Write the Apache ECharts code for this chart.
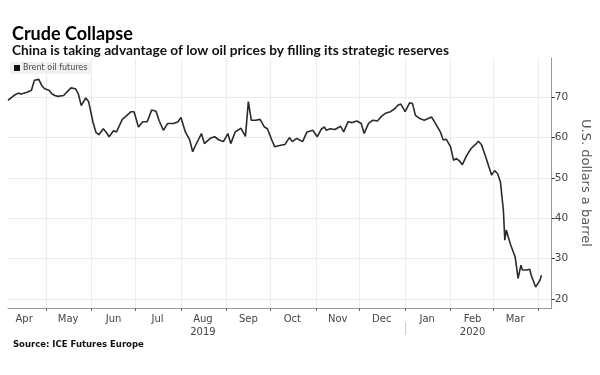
<!DOCTYPE html>
<html>
<head>
<meta charset="utf-8">
<script src="https://cdn.jsdelivr.net/npm/echarts@6/dist/echarts.min.js"></script>
<style>
  html, body { margin: 0; padding: 0; background: #fff; }
  #chart { width: 600px; height: 375px; }
</style>
</head>
<body>
<div id="chart"></div>
<script>
// Brent oil futures
var dates = [
  '2019-04-05','2019-04-09','2019-04-12','2019-04-14','2019-04-18','2019-04-21','2019-04-23','2019-04-26','2019-04-28','2019-04-30',
  '2019-05-03','2019-05-05','2019-05-07','2019-05-09','2019-05-13','2019-05-15','2019-05-18','2019-05-21','2019-05-23','2019-05-25','2019-05-28','2019-05-30',
  '2019-06-02','2019-06-04','2019-06-06','2019-06-09','2019-06-11','2019-06-13','2019-06-16','2019-06-18','2019-06-22','2019-06-24','2019-06-28','2019-06-30',
  '2019-07-03','2019-07-06','2019-07-09','2019-07-12','2019-07-15','2019-07-17','2019-07-20','2019-07-23','2019-07-27','2019-07-30',
  '2019-08-01','2019-08-04','2019-08-07','2019-08-09','2019-08-11','2019-08-15','2019-08-17','2019-08-21','2019-08-24','2019-08-27','2019-08-30',
  '2019-09-02','2019-09-04','2019-09-07','2019-09-11','2019-09-14','2019-09-15','2019-09-16','2019-09-18','2019-09-21','2019-09-24','2019-09-27','2019-09-29',
  '2019-10-02','2019-10-04','2019-10-08','2019-10-11','2019-10-14','2019-10-16','2019-10-19','2019-10-21','2019-10-23','2019-10-26','2019-10-30',
  '2019-11-02','2019-11-05','2019-11-07','2019-11-08','2019-11-11','2019-11-14','2019-11-18','2019-11-20','2019-11-23','2019-11-26','2019-11-29',
  '2019-12-02','2019-12-04','2019-12-07','2019-12-10','2019-12-13','2019-12-16','2019-12-19','2019-12-22','2019-12-25','2019-12-27','2019-12-29',
  '2020-01-01','2020-01-04','2020-01-06','2020-01-08','2020-01-11','2020-01-14','2020-01-19','2020-01-21','2020-01-25','2020-01-27','2020-01-29',
  '2020-02-01','2020-02-03','2020-02-05','2020-02-07','2020-02-09','2020-02-12','2020-02-15','2020-02-18','2020-02-20','2020-02-22','2020-02-25','2020-02-27','2020-02-29',
  '2020-03-02','2020-03-04','2020-03-06','2020-03-08','2020-03-09','2020-03-10','2020-03-11','2020-03-13','2020-03-14','2020-03-16','2020-03-17','2020-03-18',
  '2020-03-20','2020-03-21','2020-03-24','2020-03-26','2020-03-27','2020-03-30','2020-03-31','2020-04-02','2020-04-03'
];
var prices = [
  69.2,70.4,71.0,70.8,71.2,71.7,74.2,74.4,72.9,72.1,
  71.7,70.8,70.4,70.2,70.4,71.2,72.3,72.1,70.8,67.9,69.8,68.9,
  63.8,61.3,60.7,62.2,61.3,60.2,61.7,61.4,64.5,65.1,66.4,66.4,
  62.6,63.9,63.9,66.8,66.5,64.3,61.8,63.5,63.5,63.9,
  65.0,61.4,59.4,56.5,58.1,61.0,58.5,59.8,60.2,59.4,59.0,
  61.0,58.5,61.4,62.3,60.3,60.2,68.9,64.3,64.3,64.5,62.6,62.2,
  59.4,57.7,58.1,58.3,60.0,59.0,59.8,59.4,59.0,61.4,61.8,
  60.2,62.2,62.6,61.8,62.2,62.0,62.8,61.4,63.9,63.7,64.1,
  63.5,61.0,63.5,64.3,64.1,65.3,66.1,66.4,67.2,68.0,68.3,
  66.4,68.6,68.4,65.5,64.7,64.3,65.1,63.9,61.4,59.4,59.6,
  57.7,54.4,54.8,54.2,53.3,55.6,57.3,58.3,59.1,58.3,55.2,52.9,50.7,
  51.8,51.1,49.0,42.0,34.6,37.1,35.8,33.4,33.8,30.5,28.0,25.1,
  28.4,27.2,27.2,27.4,25.9,23.0,22.9,24.7,25.9
];
var monthStarts = ['2019-05-01','2019-06-01','2019-07-01','2019-08-01','2019-09-01','2019-10-01',
  '2019-11-01','2019-12-01','2020-01-01','2020-02-01','2020-03-01','2020-04-01'];
var labelDates = ['2019-04-16','2019-05-16','2019-06-16','2019-07-16','2019-08-16','2019-09-16',
  '2019-10-16','2019-11-16','2019-12-16','2020-01-16','2020-02-16','2020-03-16'];
var labelNames = ['Apr','May','Jun','Jul','Aug\n2019','Sep','Oct','Nov','Dec','Jan','Feb\n2020','Mar'];
var yTicks = [20, 30, 40, 50, 60, 70];

function ts(d) { return +new Date(d + 'T00:00:00Z'); }

var dom = document.getElementById('chart');
var myChart = echarts.init(dom, null, { renderer: 'canvas' });

var labelTs = labelDates.map(ts);
var lineData = dates.map(function (d, i) { return [ts(d), prices[i]]; });
var xMin = ts('2019-04-05');
var xMax = ts('2020-04-10');

var option = {
  animation: false,
  title: [
    {
      text: 'Crude Collapse',
      left: 7, top: 20,
      textStyle: { fontFamily: 'Lato', fontWeight: 'bold', fontSize: 18, color: '#000' }
    },
    {
      text: 'China is taking advantage of low oil prices by filling its strategic reserves',
      left: 7, top: 39,
      textStyle: { fontFamily: 'Lato', fontWeight: 'bold', fontSize: 13.7, color: '#111' }
    },
    {
      text: 'Source: ICE Futures Europe',
      left: 8, top: 335,
      textStyle: { fontFamily: 'DejaVu Sans', fontWeight: 'bold', fontSize: 8.5, color: '#111' }
    }
  ],
  legend: {
    left: 10, top: 62,
    icon: 'rect',
    itemWidth: 6, itemHeight: 6, itemGap: 3,
    padding: [2, 4, 2, 4],
    backgroundColor: '#f1f1f1',
    textStyle: { fontFamily: 'DejaVu Sans', fontSize: 8, color: '#444', padding: [0, 0, 0, -2] },
    data: [{ name: 'Brent oil futures', itemStyle: { color: '#111' } }]
  },
  grid: { left: 8, right: 47, top: 58, bottom: 67 },
  xAxis: [
    {
      type: 'value',
      min: xMin,
      max: xMax,
      axisLine: { show: true, onZero: false, lineStyle: { color: '#999', width: 1 } },
      axisTick: { show: true, customValues: monthStarts.map(ts), length: 3, lineStyle: { color: '#666' } },
      splitLine: { show: true, lineStyle: { color: '#ececec', width: 1 } },
      axisLabel: {
        customValues: labelTs,
        color: '#444',
        fontFamily: 'DejaVu Sans',
        fontSize: 10,
        lineHeight: 13,
        margin: 5,
        formatter: function (v) {
          var i = labelTs.indexOf(v);
          return i >= 0 ? labelNames[i] : '';
        }
      }
    },
    {
      type: 'value',
      min: xMin,
      max: xMax,
      position: 'bottom',
      offset: 14,
      axisLine: { show: false, onZero: false },
      axisTick: { show: true, customValues: [ts('2020-01-01')], length: 13, lineStyle: { color: '#ccc' } },
      axisLabel: { show: false },
      splitLine: { show: false }
    }
  ],
  yAxis: {
    type: 'value',
    position: 'right',
    min: 17.8,
    max: 79.7,
    axisLine: { show: true, lineStyle: { color: '#999' } },
    axisTick: { show: true, customValues: yTicks, length: 3, lineStyle: { color: '#333' } },
    axisLabel: { customValues: yTicks, color: '#444', fontFamily: 'DejaVu Sans', fontSize: 10.5, margin: 3 },
    splitLine: { show: true, lineStyle: { color: '#ececec' } },
    name: 'U.S. dollars a barrel',
    nameLocation: 'middle',
    nameRotate: -90,
    nameGap: 13,
    nameTextStyle: { fontFamily: 'DejaVu Sans', fontSize: 13, color: '#555', verticalAlign: 'top' }
  },
  series: [{
    name: 'Brent oil futures',
    type: 'line',
    xAxisIndex: 0,
    data: lineData,
    showSymbol: false,
    lineStyle: { color: '#2b2b2b', width: 1.6 },
    itemStyle: { color: '#111' }
  }]
};

myChart.setOption(option);
window.addEventListener('resize', myChart.resize);
</script>
</body>
</html>
